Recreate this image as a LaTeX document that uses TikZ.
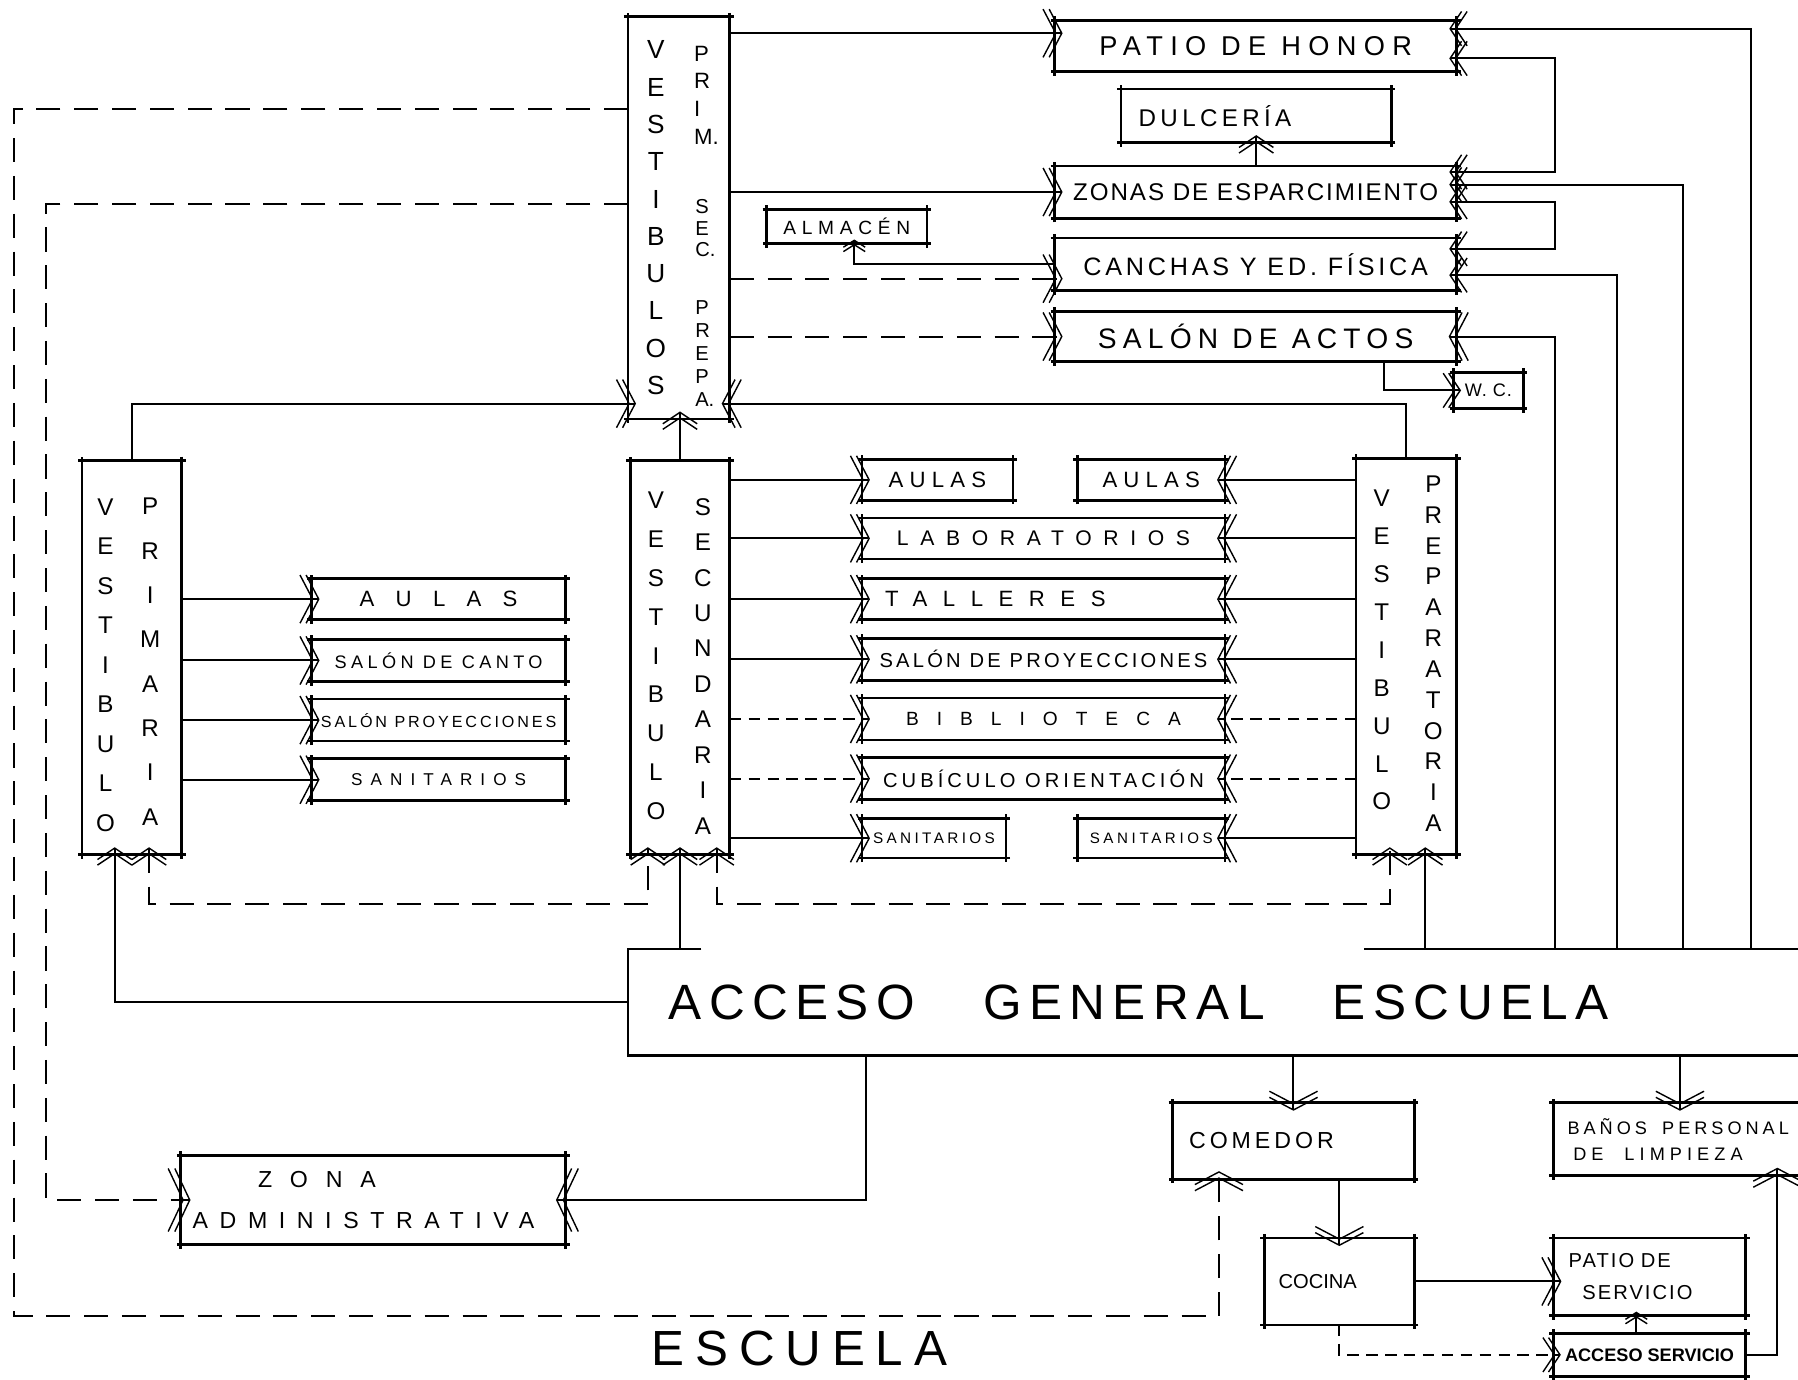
\documentclass[tikz,border=0pt]{standalone}
\usepackage{fontspec}
\setmainfont{Liberation Sans}
\usetikzlibrary{arrows.meta,calc}
\newcommand\lett[2]{\fontsize{#1}{#1}\selectfont\addfontfeature{LetterSpace=#2}}
\newcommand\lettb[3]{\fontsize{#1}{#2}\selectfont\addfontfeature{LetterSpace=#3}}
\newcommand\stk[2]{\fontsize{#1}{#2}\selectfont}

\begin{document}
\begin{tikzpicture}[
  x=0.2mm, y=-0.2mm,
  chev/.tip={Straight Barb[length=2.2mm,width=8.4mm,line width=0.7pt,sep=-1.4mm]
             Straight Barb[length=2.2mm,width=8.4mm,line width=0.7pt,sep=-1.4mm]},
  chevb/.tip={Straight Barb[length=2.6mm,width=11mm,line width=0.7pt,sep=-1.7mm]
              Straight Barb[length=2.6mm,width=11mm,line width=0.7pt,sep=-1.7mm]},
  chevs/.tip={Straight Barb[length=2mm,width=6mm,line width=0.7pt,sep=-1.3mm]
              Straight Barb[length=2mm,width=6mm,line width=0.7pt,sep=-1.3mm]},
  chevt/.tip={Straight Barb[length=1.2mm,width=3.8mm,line width=0.7pt,sep=-0.7mm]
              Straight Barb[length=1.2mm,width=3.8mm,line width=0.7pt,sep=-0.7mm]},
  con/.style={line width=1pt},
  dsh/.style={con,dash pattern=on 4.2mm off 2.4mm},
  dshs/.style={con,dash pattern=on 2mm off 1.3mm},
  ar/.style={-{chev}},
  ars/.style={-{chevs}},
  bl/.style={line width=1.3pt,shorten <=-0.7mm,shorten >=-0.7mm},
  box/.style 2 args={minimum width=#1,minimum height=#2,inner sep=0pt,
    append after command={
      (\tikzlastnode.north west) edge[bl] (\tikzlastnode.north east)
      (\tikzlastnode.north east) edge[bl] (\tikzlastnode.south east)
      (\tikzlastnode.south east) edge[bl] (\tikzlastnode.south west)
      (\tikzlastnode.south west) edge[bl] (\tikzlastnode.north west)}},
  lpad/.style 2 args={align=left,text width=#1,inner xsep=#2},
  vst/.style={align=center,inner sep=0pt},
]
  \useasboundingbox (0,0) rectangle (1568,1203);

  \node[box={17.6mm}{70mm}] (vtop) at (592,190) {};
  \node[vst,font=\stk{13}{18.5}] (vtopa) at (572,190) {V\\E\\S\\T\\I\\B\\U\\L\\O\\S};
  \node[vst,font=\stk{11}{13.7},align=left,anchor=west] (vtopb) at (605,83) {P\\R\\I\\M.};
  \node[vst,font=\stk{10}{10.8},align=left,anchor=west] (vtopc) at (606,199) {S\\E\\C.};
  \node[vst,font=\stk{10}{11.4},align=left,anchor=west] (vtopd) at (606,308) {P\\R\\E\\P\\A.};

  \node[box={17.2mm}{68.6mm}] (vpri) at (115,573.5) {};
  \node[vst,font=\stk{12}{19.6}] (vpria) at (92,580) {V\\E\\S\\T\\I\\B\\U\\L\\O};
  \node[vst,font=\stk{12}{22}] (vprib) at (131,577) {P\\R\\I\\M\\A\\R\\I\\A};
  \node[box={17.2mm}{68.6mm}] (vsec) at (593,573.5) {};
  \node[vst,font=\stk{12}{19.3}] (vseca) at (572,572) {V\\E\\S\\T\\I\\B\\U\\L\\O};
  \node[vst,font=\stk{12}{17.6}] (vsecb) at (613,581) {S\\E\\C\\U\\N\\D\\A\\R\\I\\A};
  \node[box={17.4mm}{69mm}] (vpre) at (1226.5,572.5) {};
  \node[vst,font=\stk{12}{18.8}] (vprea) at (1205,567) {V\\E\\S\\T\\I\\B\\U\\L\\O};
  \node[vst,font=\stk{12}{15.3}] (vpreb) at (1250,570) {P\\R\\E\\P\\A\\R\\A\\T\\O\\R\\I\\A};

  \node[box={70mm}{8.8mm},font=\lett{13.5}{27}] (pathon) at (1095,40) {PATIO DE HONOR};
  \node[box={47mm}{9.2mm},font=\lett{12}{18},lpad={41mm}{3mm}] (dulc) at (1095.5,101) {DULCERÍA};
  \node[box={70mm}{9mm},font=\lett{12}{8}] (zonas) at (1095,167.5) {ZONAS DE ESPARCIMIENTO};
  \node[box={27.8mm}{5.8mm},font=\lett{9.5}{30}] (almacen) at (738.5,197.5) {ALMACÉN};
  \node[box={70mm}{9mm},font=\lett{12.5}{15}] (canchas) at (1095,230.5) {CANCHAS Y ED. FÍSICA};
  \node[box={70mm}{8.6mm},font=\lett{14}{22}] (salact) at (1095,293.5) {SALÓN DE ACTOS};
  \node[box={12mm}{6.2mm},font=\lett{9}{5}] (wc) at (1298,340.5) {W. C.};

  \node[box={44.2mm}{7mm},font=\lett{11}{96}] (paul) at (382.5,522.5) {AULAS};
  \node[box={44.2mm}{7.2mm},font=\lett{9}{24}] (pcanto) at (382.5,576) {SALÓN DE CANTO};
  \node[box={44.2mm}{7.2mm},font=\lett{8}{18}] (pproy) at (382.5,628) {SALÓN PROYECCIONES};
  \node[box={44.2mm}{7.2mm},font=\lett{8.5}{47}] (psan) at (382.5,680) {SANITARIOS};

  \node[box={26.2mm}{7mm},font=\lett{11}{28}] (saul) at (817.5,418.5) {AULAS};
  \node[box={25.6mm}{7mm},font=\lett{11}{28}] (raul) at (1004,418.5) {AULAS};
  \node[box={63.2mm}{7mm},font=\lett{10.5}{55}] (lab) at (910,469.5) {LABORATORIOS};
  \node[box={63.2mm}{7mm},font=\lett{11}{70},lpad={55.2mm}{4mm}] (tall) at (910,522.5) {TALLERES};
  \node[box={63.2mm}{7.2mm},font=\lett{10}{16}] (sproy) at (910,575) {SALÓN DE PROYECCIONES};
  \node[box={63.2mm}{7.2mm},font=\lett{9.5}{94}] (bib) at (910,627) {BIBLIOTECA};
  \node[box={63.2mm}{7.2mm},font=\lett{10}{20}] (cub) at (910,679) {CUBÍCULO ORIENTACIÓN};
  \node[box={25mm}{6.8mm},font=\lett{7.6}{22}] (ssan) at (814.5,731) {SANITARIOS};
  \node[box={25.6mm}{6.8mm},font=\lett{7.5}{24}] (rsan) at (1004,731) {SANITARIOS};

  \node[minimum width=210.4mm,minimum height=18.4mm,inner sep=0pt,font=\lett{24.6}{15},lpad={196.4mm}{7mm}] (acceso) at (1074,874) {ACCESO \hspace{9mm}GENERAL \hspace{9mm}ESCUELA};
  \draw[line width=1.3pt] ([xshift=12.8mm]acceso.north west) -- (acceso.north west) -- (acceso.south west) -- (acceso.south east);
  \draw[line width=1.3pt] ([xshift=128.4mm]acceso.north west) -- (acceso.north east);

  \node[box={67mm}{15.4mm},font=\lettb{11.5}{20}{50},lpad={63mm}{2mm}] (zadm) at (325.5,1046.5) {\hspace*{11.4mm}{\addfontfeature{LetterSpace=77}ZONA}\\ADMINISTRATIVA};
  \node[box={42mm}{13.2mm},font=\lett{11.5}{17},lpad={36.4mm}{2.8mm}] (comedor) at (1128,995) {COMEDOR};
  \node[box={49mm}{12.6mm},font=\lettb{9}{13}{22},lpad={44.2mm}{2.4mm}] (banos) at (1477.5,993.5) {BAÑOS \hspace{1.6mm}PERSONAL\\\hspace*{1mm}{\addfontfeature{LetterSpace=28}DE \hspace{2.6mm}LIMPIEZA}};
  \node[box={26mm}{15mm},font=\lett{10}{0},lpad={21.2mm}{2.4mm}] (cocina) at (1168,1117.5) {COCINA};
  \node[box={33.4mm}{13.4mm},font=\lettb{10}{16}{10},lpad={28.2mm}{2.6mm}] (patserv) at (1438.5,1113.5) {PATIO DE\\\hspace*{2.4mm}SERVICIO};
  \node[box={33.4mm}{7.4mm},font=\bfseries\lett{9}{0}] (accserv) at (1438.5,1181.5) {ACCESO SERVICIO};
  \node[inner sep=0pt,anchor=base,font=\lett{24.5}{22}] (escuela) at (697,1191) {ESCUELA};

  \draw[con,ar] (vtop.east |- 0,29) -- (pathon.west |- 0,29);
  \draw[con,ar] (vtop.east |- zonas.west) -- (zonas.west);
  \draw[dsh,ar] (vtop.east |- 0,243) -- (canchas.west |- 0,243);
  \draw[dsh,ar] (vtop.east |- salact.west) -- (salact.west);
  \draw[con,-{chevt}] (canchas.west) -| (almacen.south -| 745,0);
  \draw[con,ars] (zonas.north -| dulc.south) -- (dulc.south);
  \draw[con,ars] (salact.south -| 1207,0) |- (wc.west);

  \draw[con,ars] (acceso.north -| 1527,0) |- (pathon.east |- 0,25);
  \draw[con,{chevs}-{chevs}] (pathon.east |- 0,51) -| (1356,150) -- (zonas.east |- 0,150);
  \draw[con,ars] (acceso.north -| 1468,0) |- (zonas.east |- 0,161);
  \draw[con,{chevs}-{chevs}] (zonas.east |- 0,176) -| (1356,217) -- (canchas.east |- 0,217);
  \draw[con,ars] (acceso.north -| 1410,0) |- (canchas.east |- 0,240);
  \draw[con,ar] (acceso.north -| 1356,0) |- (salact.east);

  \draw[con,ar] (vpri.north) |- (vtop.west |- 0,352);
  \draw[con,ar] (vpre.north) |- (vtop.east |- 0,352);
  \draw[con,ars] (vsec.north) -- (vsec.north |- vtop.south);

  \draw[con,ar] (vpri.east |- paul.west) -- (paul.west);
  \draw[con,ar] (vpri.east |- pcanto.west) -- (pcanto.west);
  \draw[con,ar] (vpri.east |- pproy.west) -- (pproy.west);
  \draw[con,ar] (vpri.east |- psan.west) -- (psan.west);

  \draw[con,ar] (vsec.east |- saul.west) -- (saul.west);
  \draw[con,ar] (vsec.east |- lab.west) -- (lab.west);
  \draw[con,ar] (vsec.east |- tall.west) -- (tall.west);
  \draw[con,ar] (vsec.east |- sproy.west) -- (sproy.west);
  \draw[dshs,ar] (vsec.east |- bib.west) -- (bib.west);
  \draw[dshs,ar] (vsec.east |- cub.west) -- (cub.west);
  \draw[con,ar] (vsec.east |- ssan.west) -- (ssan.west);

  \draw[con,ar] (vpre.west |- raul.east) -- (raul.east);
  \draw[con,ar] (vpre.west |- lab.east) -- (lab.east);
  \draw[con,ar] (vpre.west |- tall.east) -- (tall.east);
  \draw[con,ar] (vpre.west |- sproy.east) -- (sproy.east);
  \draw[dshs,ar] (vpre.west |- bib.east) -- (bib.east);
  \draw[dshs,ar] (vpre.west |- cub.east) -- (cub.east);
  \draw[con,ar] (vpre.west |- rsan.east) -- (rsan.east);

  \draw[dsh,{chevs}-{chevs}] (vpri.south -| 130,0) -- ++(0,43) -| (vsec.south -| 565,0);
  \draw[dsh,{chevs}-{chevs}] (vsec.south -| 625,0) -- ++(0,43) -| (vpre.south -| 1212,0);

  \draw[con,ars] (acceso.west) -| (vpri.south -| 100,0);
  \draw[con,ars] (acceso.north -| vsec.south) -- (vsec.south);
  \draw[con,ars] (acceso.north -| 1243,0) -- (vpre.south -| 1243,0);
  \draw[con,-{chevb}] (acceso.south -| 755,0) |- (zadm.east);
  \draw[con,ar] (acceso.south -| comedor.north) -- (comedor.north);
  \draw[con,ar] (acceso.south -| 1465,0) -- (banos.north -| 1465,0);
  \draw[con,ar] (comedor.south -| cocina.north) -- (cocina.north);
  \draw[con,ar] (cocina.east) -- (patserv.west |- cocina.east);
  \draw[con,-{chevt}] (accserv.north -| 1427,0) -- (patserv.south -| 1427,0);
  \draw[dshs,ars] (cocina.south) |- (accserv.west);
  \draw[con,ar] (accserv.east) -| (banos.south -| 1550,0);

  \draw[dsh,ar] (vtop.west |- 0,95) -| (12,1148) -| (comedor.south -| 1063,0);
  \draw[dsh,-{chevb}] (vtop.west |- 0,178) -| (40,0 |- zadm.west) -- (zadm.west);
\end{tikzpicture}
\end{document}
